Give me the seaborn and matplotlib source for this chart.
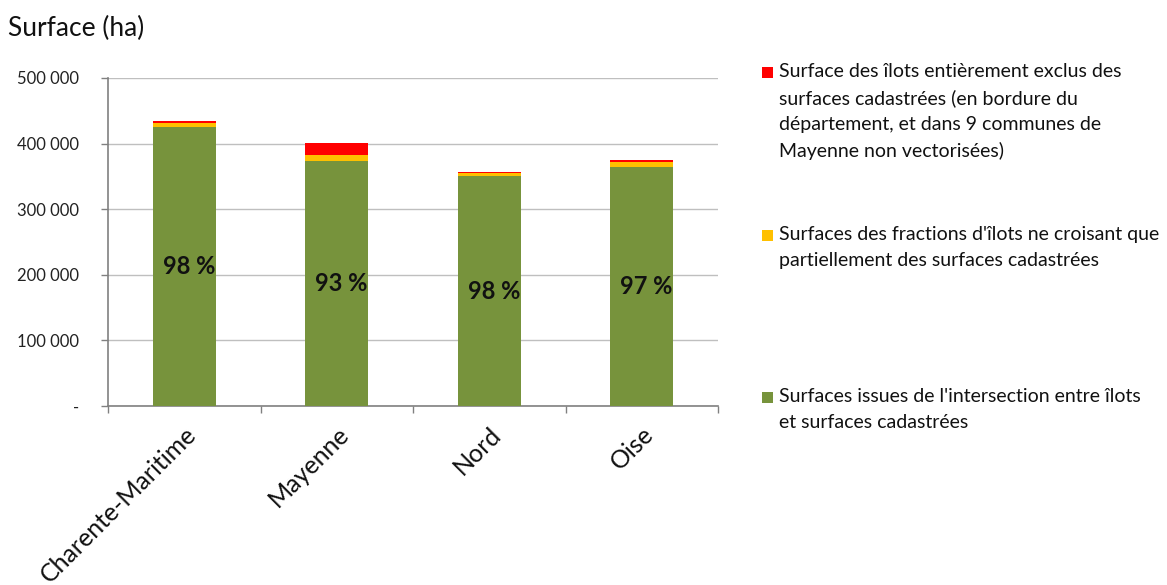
import numpy as np
import pandas as pd
import matplotlib
matplotlib.use("Agg")
import matplotlib.pyplot as plt
from matplotlib.patches import Rectangle
from matplotlib.ticker import FixedLocator, FuncFormatter
import seaborn as sns

# Surfaces par département (ha)
departements = ["Charente-Maritime", "Mayenne", "Nord", "Oise"]
intersection = [425600, 373000, 350000, 364000]   # îlots x surfaces cadastrées
fractions = [6000, 10000, 5000, 8000]             # fractions d'îlots partiellement cadastrées
exclus = [2500, 17300, 2000, 3000]                # îlots entièrement exclus
pourcentages = ["98 %", "93 %", "98 %", "97 %"]

legend_labels = [
    "Surface des îlots entièrement exclus des\nsurfaces cadastrées (en bordure du\n"
    "département, et dans 9 communes de\nMayenne non vectorisées)",
    "Surfaces des fractions d'îlots ne croisant que\npartiellement des surfaces cadastrées",
    "Surfaces issues de l'intersection entre îlots\net surfaces cadastrées",
]
colors = ["#FF0000", "#FFC000", "#77933C"]

sns.set_theme(style="white")
plt.rcParams["font.family"] = ["Lato", "DejaVu Sans"]

df = pd.DataFrame({
    "dep": departements,
    "vert": intersection,
    "jaune": np.array(intersection) + np.array(fractions),
    "rouge": np.array(intersection) + np.array(fractions) + np.array(exclus),
})

fig = plt.figure(figsize=(11.67, 5.85), dpi=100)
ax = fig.add_axes([108 / 1167, 1 - 406 / 585, 610 / 1167, 328 / 585])

# stacked bars: cumulative totals drawn from the top layer down
for col, c in zip(["rouge", "jaune", "vert"], colors):
    sns.barplot(data=df, x="dep", y=col, color=c, width=0.41, ax=ax,
                saturation=1, edgecolor="none", zorder=3)

ax.set_xlim(-0.5, 3.5)
ax.set_ylim(0, 500000)
ax.set_xlabel("")
ax.set_ylabel("")

ax.yaxis.set_major_locator(FixedLocator([0, 100000, 200000, 300000, 400000, 500000]))
ax.yaxis.set_major_formatter(FuncFormatter(
    lambda v, p: "-" if v == 0 else f"{int(v):,}".replace(",", " ")))
ax.grid(axis="y", color="#BFBFBF", linewidth=1, zorder=0)
ax.set_axisbelow(True)

for s in ["top", "right"]:
    ax.spines[s].set_visible(False)
for s in ["left", "bottom"]:
    ax.spines[s].set_color("#808080")
    ax.spines[s].set_linewidth(1.2)

ax.tick_params(axis="y", which="major", left=True, length=5, width=1,
               color="#808080", labelsize=12, labelcolor="#222222", pad=16)
ax.set_xticks(range(len(departements)))
ax.set_xticklabels(departements, rotation=45, ha="right", rotation_mode="anchor",
                   fontsize=18, color="#111111")
ax.tick_params(axis="x", which="major", bottom=False, pad=6)
ax.xaxis.set_minor_locator(FixedLocator([-0.5, 0.5, 1.5, 2.5, 3.5]))
ax.tick_params(axis="x", which="minor", bottom=True, length=5, width=1, color="#808080")

# percentage inside the green segment
for i, (v, txt) in enumerate(zip(intersection, pourcentages)):
    ax.text(i + 0.03, v / 2, txt, ha="center", va="center", fontsize=17,
            fontweight="bold", color="#111111", zorder=5)

fig.text(8 / 1167, 1 - 28 / 585, "Surface (ha)", fontsize=19, color="#111111",
         va="center", ha="left")

# legend entries
entry_tops = [73, 236, 398]
for lab, c, top in zip(legend_labels, colors, entry_tops):
    fig.patches.append(Rectangle((762 / 1167, 1 - (top + 5) / 585), 11 / 1167, 11 / 585,
                                 transform=fig.transFigure, facecolor=c,
                                 edgecolor="none"))
    fig.text(779 / 1167, 1 - (top - 10) / 585, lab, fontsize=14, color="#111111",
             ha="left", va="top", linespacing=1.62)

fig.savefig("out.png", dpi=100, facecolor="white")
